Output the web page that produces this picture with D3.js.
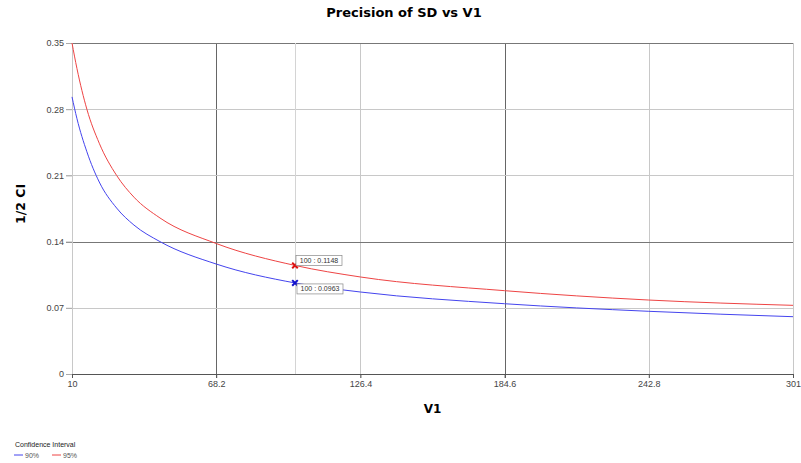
<!DOCTYPE html>
<html>
<head>
<meta charset="utf-8">
<script src="https://cdn.jsdelivr.net/npm/d3@7"></script>
<style>
  body { margin: 0; background: #fff; }
  svg { display: block; }
</style>
</head>
<body>
<div id="chart"></div>
<script>
// values
const v1 = [10, 12, 16, 21, 28, 35, 45.5, 68.2, 100, 126.4, 184.6, 242.8, 301];
const ci95 = [0.35, 0.323, 0.28, 0.244, 0.21, 0.187, 0.165, 0.138, 0.1148, 0.1026, 0.0881, 0.0782, 0.0726];
const ci90 = [0.293, 0.27, 0.235, 0.203, 0.1755, 0.1575, 0.14, 0.1163, 0.0963, 0.0867, 0.0743, 0.0663, 0.0606];
const xTicks = [10, 68.2, 126.4, 184.6, 242.8, 301];
const yTicks = [0, 0.07, 0.14, 0.21, 0.28, 0.35];
const seriesNames = ["90%", "95%"];
const markerX = 100;
const markerLabels = ["100 : 0.0963", "100 : 0.1148"];

const W = 801, H = 463;
const margin = { top: 43, right: 8, bottom: 89, left: 72 };
const width = W - margin.left - margin.right,
  height = H - margin.top - margin.bottom;

const svg = d3.select("#chart")
  .append("svg")
  .attr("width", W)
  .attr("height", H);

const g = svg.append("g")
  .attr("transform", `translate(${margin.left},${margin.top})`);

const x = d3.scaleLinear().domain([10, 301]).range([0, width]);
const y = d3.scaleLinear().domain([0, 0.35]).range([height, 0]);

const color = d3.scaleOrdinal().domain(seriesNames).range(["#4444ee", "#ee4444"]);

// grid (the picture shows some lines darker than others)
const darkX = [68.2, 184.6];
const darkY = [0.14, 0.35];
g.append("g")
  .selectAll("line")
  .data(xTicks)
  .join("line")
  .attr("x1", d => Math.round(x(d)) + 0.5)
  .attr("x2", d => Math.round(x(d)) + 0.5)
  .attr("y1", 0)
  .attr("y2", height + 4)
  .attr("stroke", d => darkX.includes(d) ? "#666" : "#c8c8c8");

g.append("g")
  .selectAll("line")
  .data(yTicks.slice(1))
  .join("line")
  .attr("x1", -6)
  .attr("x2", width)
  .attr("y1", d => Math.round(y(d)) + 0.5)
  .attr("y2", d => Math.round(y(d)) + 0.5)
  .attr("stroke", d => darkY.includes(d) ? "#777" : "#c8c8c8");

// crosshair at the marker
g.append("line")
  .attr("x1", Math.round(x(markerX)) + 0.5)
  .attr("x2", Math.round(x(markerX)) + 0.5)
  .attr("y1", 0)
  .attr("y2", height)
  .attr("stroke", "#d4d4d4");

// axes
const yAxis = g.append("g")
  .call(d3.axisLeft(y).tickValues(yTicks).tickSize(6).tickFormat(d => d === 0 ? "0" : d3.format(".2f")(d)));
yAxis.select(".domain").attr("stroke", "#c8c8c8");
yAxis.selectAll(".tick line").attr("stroke", "#aaa");
yAxis.selectAll("text")
  .attr("font-family", "Liberation Sans, Arial, sans-serif")
  .attr("font-size", 9)
  .attr("fill", "#444")
  .attr("x", -8);

const xAxis = g.append("g")
  .attr("transform", `translate(0,${height})`)
  .call(d3.axisBottom(x).tickValues(xTicks).tickSize(4).tickFormat(d3.format("")));
xAxis.select(".domain").attr("stroke", "#555");
xAxis.selectAll(".tick line").attr("stroke", "#555");
xAxis.selectAll("text")
  .attr("font-family", "Liberation Sans, Arial, sans-serif")
  .attr("font-size", 9)
  .attr("fill", "#444")
  .attr("y", 7);

// curves
const line = d3.line()
  .x(d => x(d[0]))
  .y(d => y(d[1]))
  .curve(d3.curveMonotoneX);

const series = [
  { name: "90%", values: v1.map((d, i) => [d, ci90[i]]) },
  { name: "95%", values: v1.map((d, i) => [d, ci95[i]]) }
];

g.append("g")
  .selectAll("path")
  .data(series)
  .join("path")
  .attr("d", d => line(d.values))
  .attr("fill", "none")
  .attr("stroke", d => color(d.name))
  .attr("stroke-width", 1);

// markers at V1 = 100
const marks = series.map((s, i) => ({
  name: s.name,
  value: s.values[v1.indexOf(markerX)][1],
  label: markerLabels[i]
}));

g.append("g")
  .selectAll("path")
  .data(marks)
  .join("path")
  .attr("transform", d => `translate(${x(markerX)},${y(d.value)})`)
  .attr("d", d3.symbol(d3.symbolX, 22))
  .attr("fill", "none")
  .attr("stroke", d => d.name === "90%" ? "#1111cc" : "#dd1111")
  .attr("stroke-width", 2);

const lbl = g.append("g")
  .selectAll("g")
  .data(marks)
  .join("g")
  .attr("transform", d => d.name === "95%"
    ? `translate(${x(markerX) + 1},${y(d.value) - 10})`
    : `translate(${x(markerX) + 2},${y(d.value) + 1})`);
lbl.append("rect")
  .attr("width", 46)
  .attr("height", 10)
  .attr("fill", "#fff")
  .attr("stroke", "#888")
  .attr("stroke-width", 0.7);
lbl.append("text")
  .attr("x", 23)
  .attr("y", 7.5)
  .attr("text-anchor", "middle")
  .attr("font-family", "Liberation Sans, Arial, sans-serif")
  .attr("font-size", 7)
  .attr("fill", "#333")
  .text(d => d.label);

// titles
svg.append("text")
  .attr("x", 404)
  .attr("y", 17)
  .attr("text-anchor", "middle")
  .attr("font-family", "DejaVu Sans, Verdana, sans-serif")
  .attr("font-weight", "bold")
  .attr("font-size", 13)
  .text("Precision of SD vs V1");

svg.append("text")
  .attr("x", margin.left + width / 2)
  .attr("y", 413)
  .attr("text-anchor", "middle")
  .attr("font-family", "DejaVu Sans, Verdana, sans-serif")
  .attr("font-weight", "bold")
  .attr("font-size", 12)
  .text("V1");

svg.append("text")
  .attr("transform", "translate(25,204) rotate(-90)")
  .attr("text-anchor", "middle")
  .attr("font-family", "DejaVu Sans, Verdana, sans-serif")
  .attr("font-weight", "bold")
  .attr("font-size", 12.5)
  .text("1/2 CI");

// legend
const legend = svg.append("g").attr("transform", "translate(14,447)");
legend.append("text")
  .attr("x", 1)
  .attr("y", 0)
  .attr("font-family", "Liberation Sans, Arial, sans-serif")
  .attr("font-size", 7)
  .attr("fill", "#222")
  .text("Confidence Interval");
const items = legend.selectAll("g.item")
  .data(seriesNames)
  .join("g")
  .attr("class", "item")
  .attr("transform", (d, i) => `translate(${i * 38},8)`);
items.append("line")
  .attr("x1", 0).attr("x2", 9)
  .attr("stroke", d => color(d));
items.append("text")
  .attr("x", 11)
  .attr("y", 2.5)
  .attr("font-family", "Liberation Sans, Arial, sans-serif")
  .attr("font-size", 7)
  .attr("fill", "#555")
  .text(d => d);
</script>
</body>
</html>
